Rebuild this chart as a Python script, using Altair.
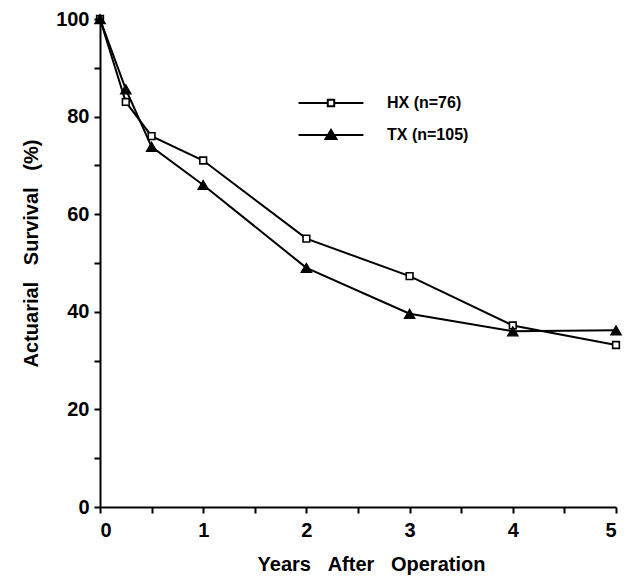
import altair as alt
import pandas as pd

years = [0, 0.25, 0.5, 1, 2, 3, 4, 5]
hx = [100, 83, 76, 71, 55, 47.3, 37.2, 33.2]
tx = [100, 85.6, 73.8, 66, 49, 39.6, 36, 36.2]
series_names = ["HX (n=76)", "TX (n=105)"]
x_tick_values = [0, 0.5, 1, 1.5, 2, 2.5, 3, 3.5, 4, 4.5, 5]
y_tick_values = [0, 10, 20, 30, 40, 50, 60, 70, 80, 90, 100]

df_hx = pd.DataFrame({"years": years, "survival": hx, "series": series_names[0]})
df_tx = pd.DataFrame({"years": years, "survival": tx, "series": series_names[1]})
df = pd.concat([df_hx, df_tx], ignore_index=True)

FONT = "Liberation Sans"
NB = "\u00a0\u00a0\u00a0"

x_enc = alt.X(
    "years:Q",
    scale=alt.Scale(domain=[0, 5], nice=False),
    axis=alt.Axis(
        values=x_tick_values,
        labelExpr="datum.value % 1 == 0 ? format(datum.value, 'd') : ''",
        title=f"Years{NB}After{NB}Operation",
        titleX=271,
        grid=False,
    ),
)
y_enc = alt.Y(
    "survival:Q",
    scale=alt.Scale(domain=[0, 100], nice=False),
    axis=alt.Axis(
        values=y_tick_values,
        labelExpr="datum.value % 20 == 0 ? format(datum.value, 'd') : ''",
        title=f"Actuarial{NB}Survival{NB}(%)",
        titleY=234,
        grid=False,
    ),
)

hx_path = "M-1.5,0H-0.15M0.15,0H1.5M-0.15,-0.15H0.15V0.15H-0.15Z"
tx_path = "M-1.5,0H1.5M-0.25,0.18L0,-0.23L0.25,0.18Z"


def legend_for(path, ly):
    return alt.Legend(
        title=None,
        orient="none",
        legendX=208,
        legendY=ly,
        symbolType=path,
        symbolSize=1870,
        symbolStrokeWidth=2,
        symbolStrokeColor="black",
        symbolOpacity=1,
        labelFont=FONT,
        labelFontSize=16,
        labelFontWeight="bold",
        labelColor="black",
        labelOffset=33,
    )


lines = alt.Chart(df).mark_line(strokeWidth=2, color="black").encode(
    x=x_enc,
    y=y_enc,
    detail="series:N",
)

pts_hx = alt.Chart(df_hx).mark_point(
    filled=True, shape="square", size=45, strokeWidth=1.6, opacity=1
).encode(
    x=x_enc,
    y=y_enc,
    fill=alt.Fill(
        "series:N",
        scale=alt.Scale(domain=[series_names[0]], range=["white"]),
        legend=legend_for(hx_path, 61),
    ),
    stroke=alt.value("black"),
)

pts_tx = alt.Chart(df_tx).mark_point(
    filled=True, shape="triangle-up", size=110, strokeWidth=1.2, opacity=1
).encode(
    x=x_enc,
    y=y_enc,
    fill=alt.Fill(
        "series:N",
        scale=alt.Scale(domain=[series_names[1]], range=["black"]),
        legend=legend_for(tx_path, 93),
    ),
    stroke=alt.value("black"),
)

chart = (
    alt.layer(lines, pts_hx, pts_tx)
    .resolve_scale(fill="independent")
    .properties(
        width=516,
        height=488,
        autosize=alt.AutoSizeParams(type="none"),
        padding={"left": 92, "top": 11, "right": 8, "bottom": 69},
        background="white",
    )
    .configure_view(stroke=None)
    .configure_axis(
        domainColor="black",
        domainWidth=2,
        tickColor="black",
        tickWidth=2,
        tickSize=6,
        labelFont=FONT,
        labelFontSize=20,
        labelFontWeight="bold",
        labelColor="black",
        labelPadding=5,
        titleFont=FONT,
        titleFontSize=20,
        titleFontWeight="bold",
        titleColor="black",
    )
    .configure_axisX(labelPadding=7, titlePadding=14)
    .configure_axisY(titlePadding=14)
)

chart.save("out.html", embed_options={"renderer": "svg", "actions": False})
